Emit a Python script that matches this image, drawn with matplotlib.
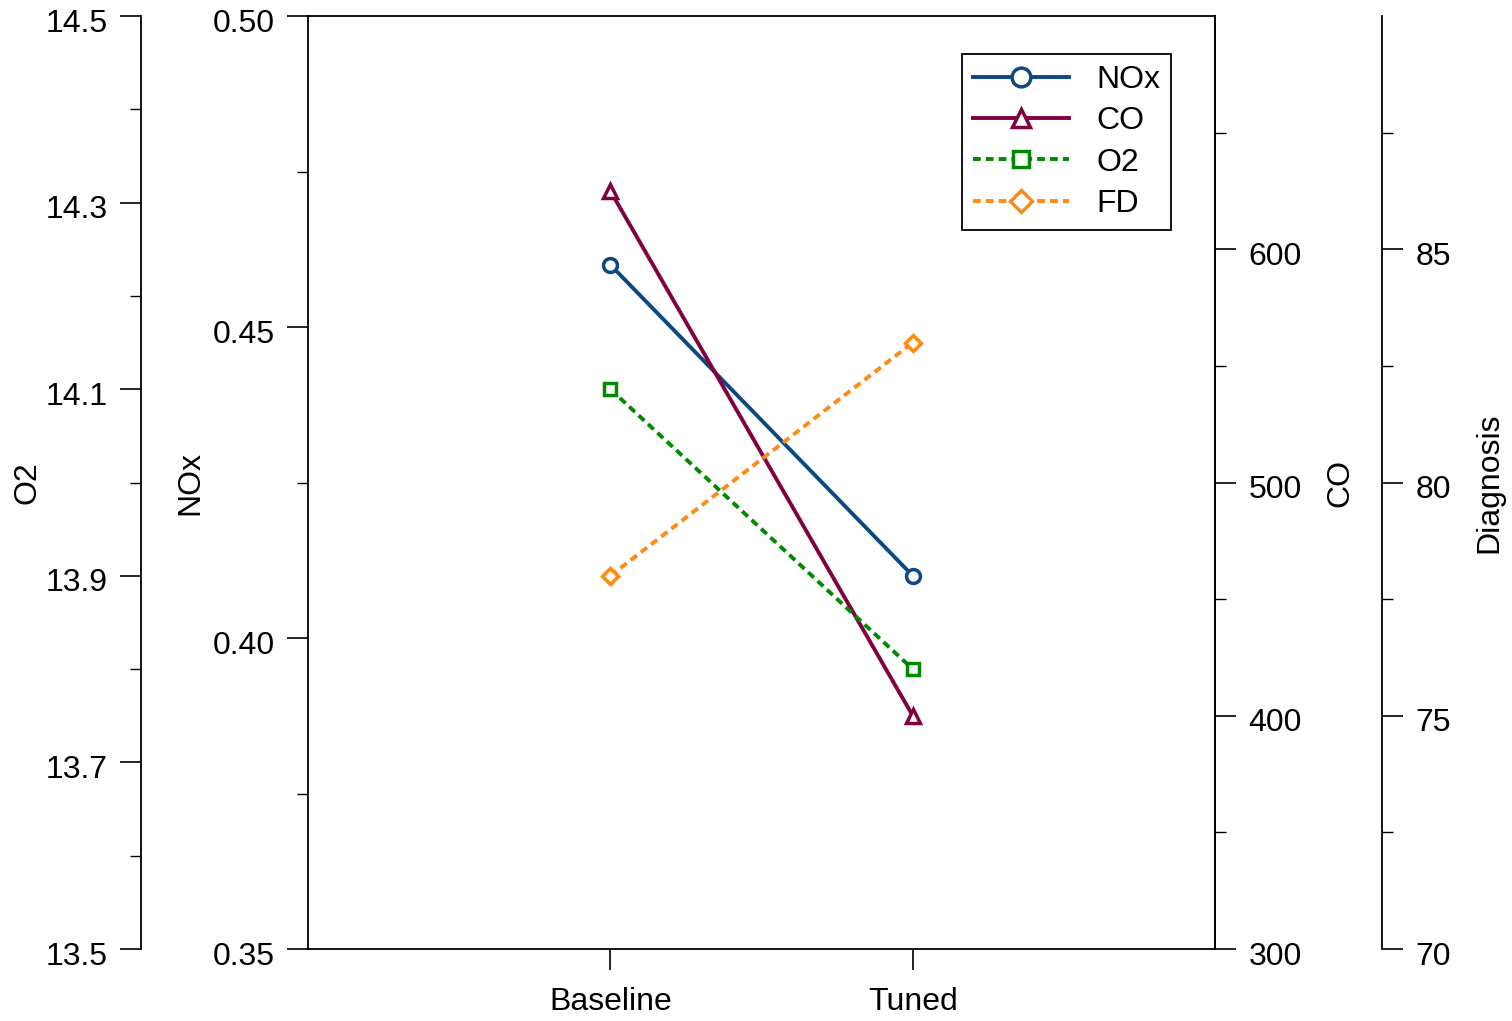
import numpy as np
import matplotlib
matplotlib.use("Agg")
import matplotlib.pyplot as plt
from matplotlib.ticker import MultipleLocator, FormatStrFormatter
from matplotlib.transforms import ScaledTranslation

plt.rcParams['font.family'] = ['Liberation Sans', 'DejaVu Sans']
plt.rcParams['font.size'] = 23

categories = ["Baseline", "Tuned"]
nox = [0.46, 0.41]
co = [625, 400]
o2 = [14.1, 13.8]
fd = [78, 83]

c_nox = '#0B4884'
c_co = '#800040'
c_o2 = '#008A00'
c_fd = '#FF8A14'

fig = plt.figure(figsize=(15.12, 10.21), dpi=100)
ax = fig.add_axes([0.2037, 0.0705, 0.6, 0.9138])
x = np.arange(len(categories))
shift = ScaledTranslation(0, -4 / 100, fig.dpi_scale_trans)


def style_ticks(a):
    a.tick_params(axis='y', which='major', direction='out', length=15, width=1.2, pad=9)
    a.tick_params(axis='y', which='minor', direction='out', length=8, width=1.0)


def nudge(a):
    for t in a.get_yticklabels():
        t.set_transform(t.get_transform() + shift)


# NOx, main axis
ax.plot(x, nox, color=c_nox, lw=2.8, marker='o', ms=10, mfc='white', mew=2.5, label='NOx')
ax.set_xlim(-1, 2)
ax.set_ylim(0.35, 0.50)
ax.yaxis.set_major_locator(MultipleLocator(0.05))
ax.yaxis.set_minor_locator(MultipleLocator(0.025))
ax.yaxis.set_major_formatter(FormatStrFormatter('%.2f'))
ax.set_xticks(x)
ax.set_xticklabels(categories)
ax.tick_params(axis='x', direction='out', length=15, width=1.2, pad=12)
style_ticks(ax)
ax.set_ylabel('NOx')
ax.yaxis.set_label_coords(-0.1136, 0.5)
for s in ax.spines.values():
    s.set_linewidth(1.3)

# CO, right axis
ax_co = ax.twinx()
ax_co.plot(x, co, color=c_co, lw=2.8, marker='^', ms=10, mfc='white', mew=2.5, label='CO')
ax_co.set_ylim(300, 700)
ax_co.set_yticks([300, 400, 500, 600])
ax_co.set_yticks([350, 450, 550, 650], minor=True)
style_ticks(ax_co)
ax_co.set_ylabel('CO')
ax_co.yaxis.set_label_coords(1.122, 0.5)
for k in ['top', 'bottom', 'left']:
    ax_co.spines[k].set_visible(False)
ax_co.spines['right'].set_linewidth(1.3)

# O2, outer left axis
ax_o2 = ax.twinx()
ax_o2.plot(x, o2, color=c_o2, lw=2.8, ls=(0, (2, 1.3)), marker='s', ms=9, mfc='white', mew=2.5, label='O2')
ax_o2.set_ylim(13.5, 14.5)
ax_o2.set_yticks([13.5, 13.7, 13.9, 14.1, 14.3, 14.5])
ax_o2.set_yticks([13.6, 13.8, 14.0, 14.2, 14.4], minor=True)
ax_o2.yaxis.set_major_formatter(FormatStrFormatter('%.1f'))
ax_o2.yaxis.set_ticks_position('left')
ax_o2.yaxis.set_label_position('left')
ax_o2.spines['left'].set_position(('axes', -0.1841))
for k in ['top', 'bottom', 'right']:
    ax_o2.spines[k].set_visible(False)
ax_o2.spines['left'].set_linewidth(1.3)
style_ticks(ax_o2)
ax_o2.set_ylabel('O2')
ax_o2.yaxis.set_label_coords(-0.293, 0.5)

# FD, outer right axis
ax_fd = ax.twinx()
ax_fd.plot(x, fd, color=c_fd, lw=2.8, ls=(0, (2, 1.3)), marker='D', ms=8.5, mfc='white', mew=2.5, label='FD')
ax_fd.set_ylim(70, 90)
ax_fd.set_yticks([70, 75, 80, 85])
ax_fd.set_yticks([72.5, 77.5, 82.5, 87.5], minor=True)
ax_fd.spines['right'].set_position(('axes', 1.184))
for k in ['top', 'bottom', 'left']:
    ax_fd.spines[k].set_visible(False)
ax_fd.spines['right'].set_linewidth(1.3)
style_ticks(ax_fd)
ax_fd.set_ylabel('Diagnosis')
ax_fd.yaxis.set_label_coords(1.2856, 0.5)

for a in [ax, ax_co, ax_o2, ax_fd]:
    nudge(a)

handles = []
labels = []
for a in [ax, ax_co, ax_o2, ax_fd]:
    h, l = a.get_legend_handles_labels()
    handles += h
    labels += l
leg = ax_fd.legend(handles, labels, loc='upper right', bbox_to_anchor=(0.9515, 0.9593),
                   borderaxespad=0, fancybox=False, framealpha=1, edgecolor='black',
                   handlelength=3.0, markerscale=1.35, borderpad=0.35, labelspacing=0.35,
                   handletextpad=0.85, fontsize=23)
leg.get_frame().set_linewidth(1.3)

fig.savefig('out.png', dpi=100)
